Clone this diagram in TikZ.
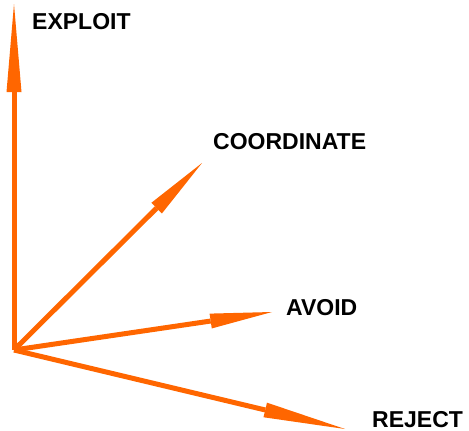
\documentclass[tikz,border=0pt]{standalone}
\usepackage{fontspec}
\setmainfont{Liberation Sans}
\usepackage{tikz}
\usetikzlibrary{arrows.meta}
\definecolor{vecorange}{HTML}{FF6600}
\tikzset{%
    vec/.style={%
        draw=vecorange, line width=5pt,
        -{Triangle[length=#1, width=15pt, line width=0pt]}
    },
    lbl/.style={anchor=west, inner sep=0pt, font=\bfseries\fontsize{23}{26}\selectfont}
}

\begin{document}
\begin{tikzpicture}[x=1pt,y=-1pt]
    \useasboundingbox (0,0) rectangle (469,431);
    \coordinate (o) at (14,350);
    \coordinate (exploit) at (14,4);
    \coordinate (coord) at (202,163);
    \coordinate (avoid) at (272,312);
    \coordinate (reject) at (345,429);

    \node[lbl] (lexploit) at (32,22) {EXPLOIT};
    \node[lbl] (lcoord) at (213,142) {COORDINATE};
    \node[lbl] (lavoid) at (286,308) {AVOID};
    \node[lbl] (lreject) at (372,420) {REJECT};

	\draw[vec=88pt] (o) -- (exploit);
	\draw[vec=64pt] (o) -- (coord);
	\draw[vec=62pt] (o) -- (avoid);
	\draw[vec=82pt] (o) -- (reject);
\end{tikzpicture}
\end{document}
